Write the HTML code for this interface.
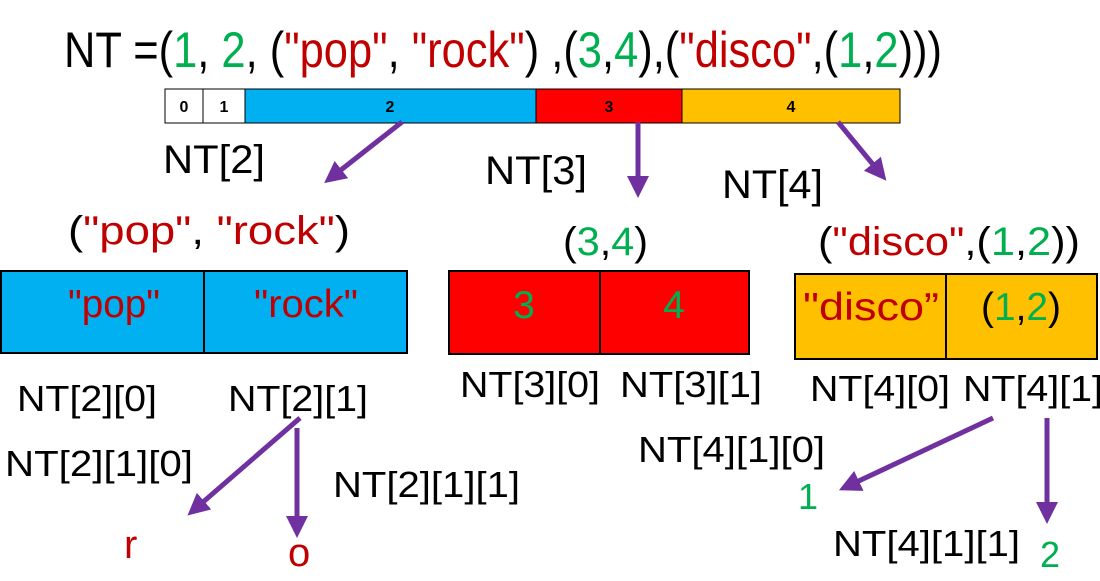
<!DOCTYPE html>
<html><head><meta charset="utf-8"><style>
html,body{margin:0;padding:0;background:#fff;width:1100px;height:581px;overflow:hidden}
svg text{font-family:"Liberation Sans",sans-serif}
</style></head><body>
<svg width="1100" height="581" viewBox="0 0 1100 581" xmlns="http://www.w3.org/2000/svg">
<defs>
<marker id="ah" markerWidth="4.4" markerHeight="4.4" refX="2.4" refY="2.2" orient="auto" markerUnits="strokeWidth">
<path d="M0,0 L4.4,2.2 L0,4.4 z" fill="#7030a0"/></marker>
</defs>
<g fill="#000">
<text x="64" y="67" font-size="50" textLength="878" lengthAdjust="spacingAndGlyphs">NT =(<tspan fill="#00b050">1</tspan>, <tspan fill="#00b050">2</tspan>, (<tspan fill="#c00000">"pop"</tspan>, <tspan fill="#c00000">"rock"</tspan>) ,(<tspan fill="#00b050">3</tspan>,<tspan fill="#00b050">4</tspan>),(<tspan fill="#c00000">"disco"</tspan>,(<tspan fill="#00b050">1</tspan>,<tspan fill="#00b050">2</tspan>)))</text>
</g>
<g stroke="#000" stroke-width="1">
<rect x="165" y="89" width="38" height="34" fill="#fff"/>
<rect x="203" y="89" width="42" height="34" fill="#fff"/>
<rect x="245" y="89" width="291" height="34" fill="#00b0f0"/>
<rect x="536" y="89" width="146" height="34" fill="#ff0000"/>
<rect x="682" y="89" width="218" height="34" fill="#ffc000"/>
</g>
<g font-size="16" font-weight="bold" text-anchor="middle">
<text x="184" y="112">0</text><text x="224" y="112">1</text><text x="390" y="112">2</text><text x="609" y="112">3</text><text x="791" y="112">4</text>
</g>
<g stroke="#7030a0" stroke-width="5" fill="none" marker-end="url(#ah)">
<line x1="402" y1="122" x2="332" y2="177"/>
<line x1="638" y1="122" x2="638" y2="188"/>
<line x1="838" y1="122" x2="880" y2="173"/>
<line x1="300" y1="418" x2="195" y2="509"/>
<line x1="297" y1="428" x2="297" y2="528"/>
<line x1="993" y1="418" x2="848" y2="486"/>
<line x1="1047" y1="418" x2="1047" y2="514"/>
</g>
<g font-size="40">
<text x="163" y="173" textLength="102" lengthAdjust="spacingAndGlyphs">NT[2]</text>
<text x="485" y="184" textLength="102" lengthAdjust="spacingAndGlyphs">NT[3]</text>
<text x="722" y="198" textLength="101" lengthAdjust="spacingAndGlyphs">NT[4]</text>
<text x="68" y="244" textLength="282" lengthAdjust="spacingAndGlyphs">(<tspan fill="#c00000">"pop"</tspan>, <tspan fill="#c00000">"rock"</tspan>)</text>
<text x="563" y="255" textLength="85" lengthAdjust="spacingAndGlyphs">(<tspan fill="#00b050">3</tspan>,<tspan fill="#00b050">4</tspan>)</text>
<text x="818" y="255" textLength="262" lengthAdjust="spacingAndGlyphs">(<tspan fill="#c00000">"disco"</tspan>,(<tspan fill="#00b050">1</tspan>,<tspan fill="#00b050">2</tspan>))</text>
</g>
<g stroke="#000" stroke-width="2">
<rect x="1" y="271" width="203" height="82" fill="#00b0f0"/>
<rect x="204" y="271" width="203" height="82" fill="#00b0f0"/>
<rect x="449" y="271" width="151" height="83" fill="#ff0000"/>
<rect x="600" y="271" width="149" height="83" fill="#ff0000"/>
<rect x="795" y="274" width="151" height="85" fill="#ffc000"/>
<rect x="946" y="274" width="151" height="85" fill="#ffc000"/>
</g>
<g font-size="39" text-anchor="middle">
<text x="114" y="317" fill="#c00000" textLength="92" lengthAdjust="spacingAndGlyphs">"pop"</text>
<text x="306" y="317" fill="#c00000" textLength="104" lengthAdjust="spacingAndGlyphs">"rock"</text>
<text x="524" y="318" fill="#00b050">3</text>
<text x="674" y="318" fill="#00b050">4</text>
<text x="871" y="320" fill="#c00000" textLength="136" lengthAdjust="spacingAndGlyphs">"disco”</text>
<text x="1021" y="320" textLength="80" lengthAdjust="spacingAndGlyphs">(<tspan fill="#00b050">1</tspan>,<tspan fill="#00b050">2</tspan>)</text>
</g>
<g font-size="36">
<text x="17" y="411" textLength="140" lengthAdjust="spacingAndGlyphs">NT[2][0]</text>
<text x="228" y="411" textLength="140" lengthAdjust="spacingAndGlyphs">NT[2][1]</text>
<text x="5" y="476" textLength="188" lengthAdjust="spacingAndGlyphs">NT[2][1][0]</text>
<text x="333" y="497" textLength="187" lengthAdjust="spacingAndGlyphs">NT[2][1][1]</text>
<text x="460" y="397" textLength="140" lengthAdjust="spacingAndGlyphs">NT[3][0]</text>
<text x="620" y="397" textLength="142" lengthAdjust="spacingAndGlyphs">NT[3][1]</text>
<text x="638" y="462" textLength="187" lengthAdjust="spacingAndGlyphs">NT[4][1][0]</text>
<text x="810" y="401" textLength="140" lengthAdjust="spacingAndGlyphs">NT[4][0]</text>
<text x="963" y="401" textLength="140" lengthAdjust="spacingAndGlyphs">NT[4][1]</text>
<text x="833" y="556" textLength="187" lengthAdjust="spacingAndGlyphs">NT[4][1][1]</text>
</g>
<g font-size="40">
<text x="124" y="558" fill="#c00000">r</text>
<text x="288" y="566" fill="#c00000">o</text>
<text x="798" y="509" fill="#00b050" font-size="36">1</text>
<text x="1040" y="567" fill="#00b050" font-size="36">2</text>
</g>
</svg>
</body></html>
